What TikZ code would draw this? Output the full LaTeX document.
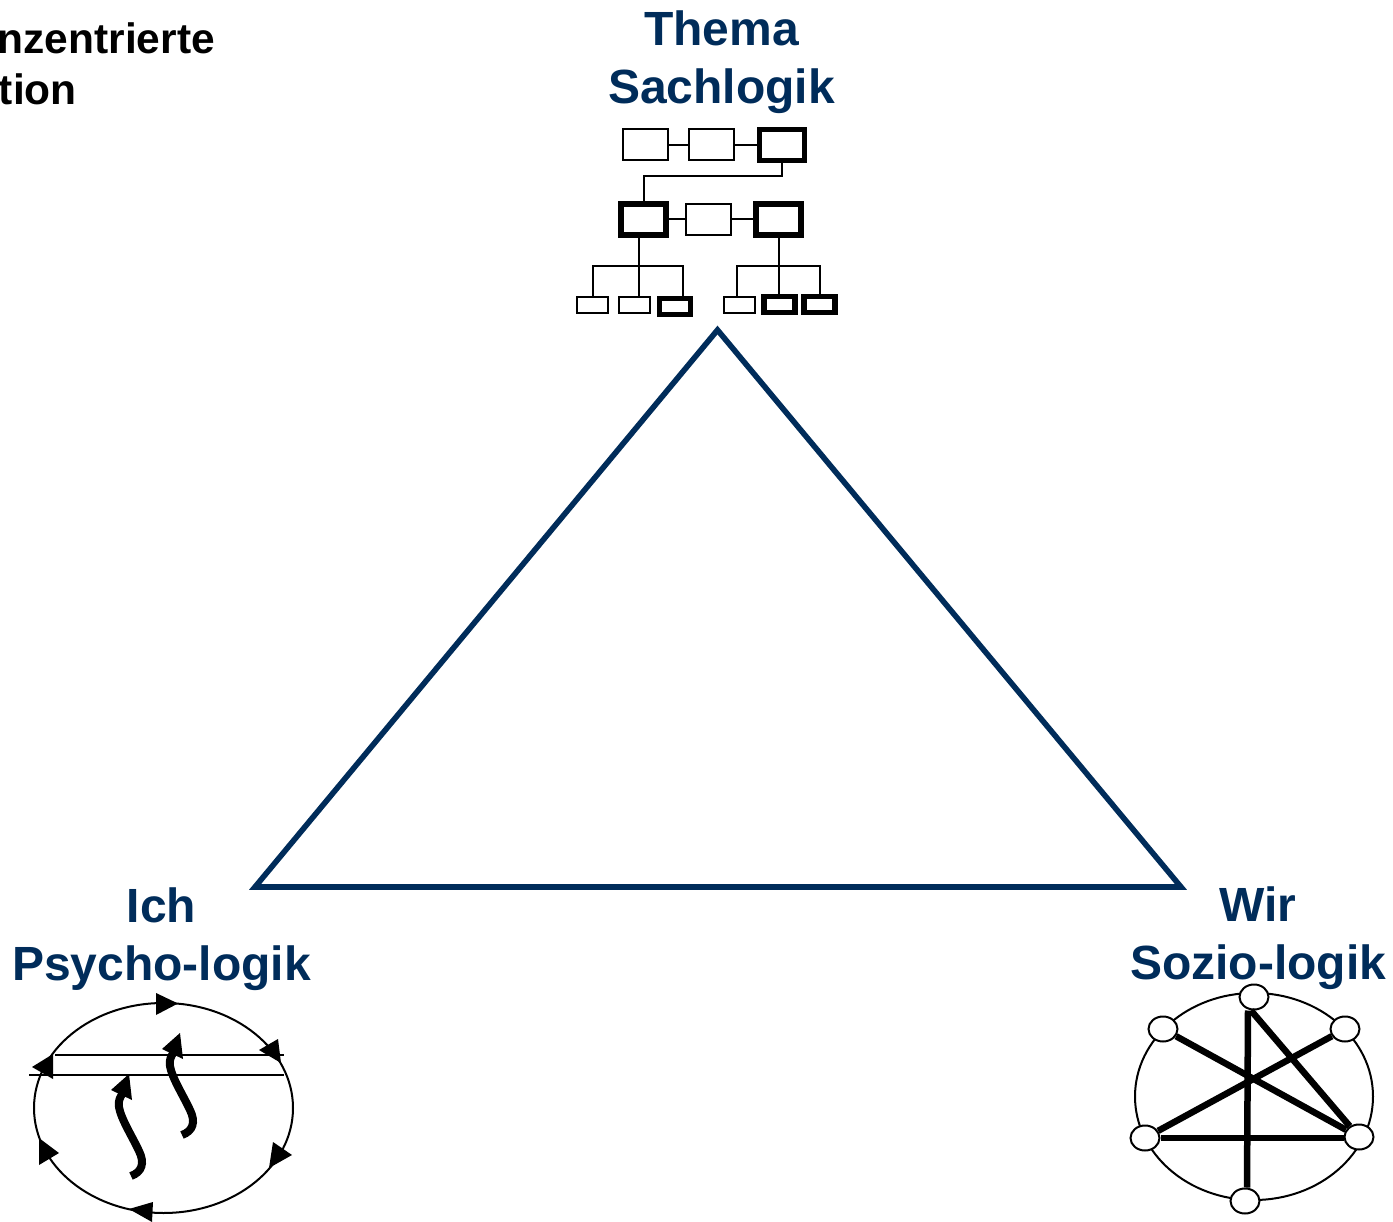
\documentclass[tikz,border=0pt]{standalone}
\usepackage{fontspec}
\setmainfont{Liberation Sans}
\usetikzlibrary{shapes.geometric}

\definecolor{navy}{HTML}{002C5A}

\tikzset{
	headline/.style = {navy, font = \fontsize{48}{58}\selectfont\bfseries, align = center, inner sep = 0},
	titleline/.style = {anchor = base east, inner sep = 0, font = \fontsize{42.5}{50}\selectfont\bfseries},
	plainbox/.style = {draw, fill = white, line width = 2, inner sep = 0},
	heavybox/.style = {draw, fill = white, line width = 5.6, inner sep = 0},
	largebox/.style = {minimum width = 45, minimum height = 31},
	smallbox/.style = {minimum width = 31, minimum height = 16},
	member/.style = {draw, ellipse, fill = white, line width = 2, inner sep = 0, minimum width = 29, minimum height = 25},
	link/.style = {line width = 2},
	tie/.style = {line width = 6.5}
}

\begin{document}
\begin{tikzpicture}[x = 1pt, y = -1pt]

	\useasboundingbox (0, 0) rectangle (1393, 1222);
	\clip (0, 0) rectangle (1393, 1222);

	% Heading, cut off by the page edge

	\node [titleline] (headone) at (215, 53.5) {nzentrierte};
	\node [titleline] (headtwo) at (77, 104.5) {tion};

	% Triangle

	\draw [navy, line width = 5.6] (717.5, 330) -- (1181, 887) -- (255, 887) -- cycle;

	% Labels

	\node [headline] (thema) at (721.5, 62) {Thema\\Sachlogik};
	\node [headline] (ich) at (161.5, 939) {Ich\\Psycho-logik};
	\node [headline] (wir) at (1258, 938) {Wir\\Sozio-logik};

	% Top row

	\node [plainbox, largebox] (topa) at (645.5, 145) {};
	\node [plainbox, largebox] (topb) at (711, 145) {};
	\node [heavybox, largebox] (topc) at (782, 145) {};
	\draw [link] (topa) -- (topb);
	\draw [link] (topb) -- (topc);

	% Middle row

	\node [heavybox, largebox] (mida) at (643.5, 219.5) {};
	\node [plainbox, largebox] (midb) at (708, 219.5) {};
	\node [heavybox, largebox] (midc) at (778.5, 219.5) {};
	\draw [link] (mida) -- (midb);
	\draw [link] (midb) -- (midc);
	\draw [link] (topc.south) -- ++ (0, 12.5) -| (mida.north);

	% Bottom row

	\node [plainbox, smallbox] (lowa) at (592.5, 305) {};
	\node [plainbox, smallbox] (lowb) at (634.5, 305) {};
	\node [heavybox, smallbox] (lowc) at (675, 306.5) {};
	\node [plainbox, smallbox] (lowd) at (739, 305) {};
	\node [heavybox, smallbox] (lowe) at (779.3, 304.5) {};
	\node [heavybox, smallbox] (lowf) at (819.5, 304.5) {};

	\coordinate (busa) at (638.5, 266);
	\coordinate (busb) at (778.5, 266);

	\draw [link] ([xshift = -5pt] mida.south) -- (busa) -- (busa |- lowb.north);
	\draw [link] (lowa.north) |- (busa) -| ([xshift = 8pt] lowc.north);
	\draw [link] (midc.south) -- (midc.south |- lowe.north);
	\draw [link] ([xshift = -2pt] lowd.north) |- (busb) -| (lowf.north);

	% Left circle

	\node [draw, ellipse, line width = 2, inner sep = 0, minimum width = 259, minimum height = 210] (psyche) at (163.5, 1108) {};

	\foreach \xa / \ya / \xb / \yb / \xc / \yc in {
		178 / 1003.5 / 156 / 993 / 156 / 1015,
		281 / 1063 / 259 / 1050 / 278 / 1039,
		292 / 1155 / 273 / 1142 / 269 / 1168,
		129 / 1209 / 153 / 1202 / 152 / 1222,
		59 / 1153 / 39 / 1138 / 39 / 1165,
		32 / 1067 / 53 / 1054 / 53 / 1079}
		\fill (\xa, \ya) -- (\xb, \yb) -- (\xc, \yc) -- cycle;

	\coordinate (barastart) at (55, 1055);
	\coordinate (baraend) at (284, 1055);
	\coordinate (barbstart) at (29, 1075);
	\coordinate (barbend) at (284, 1075);
	\draw [line width = 2.5] (barastart) -- (baraend);
	\draw [line width = 2.5] (barbstart) -- (barbend);

	% Wavy arrows

	\foreach \dx / \dy in {0 / 0, -51 / 41} {
		\begin{scope}[shift = {(\dx, \dy)}]
			\draw [line width = 8] (182, 1135) .. controls (193, 1131) and (196, 1122) .. (190, 1110) .. controls (183, 1095) and (172, 1078) .. (170, 1066) .. controls (169, 1060) and (171, 1056) .. (174, 1052);
			\fill (180, 1033) -- (162, 1049) -- (183, 1059) -- cycle;
		\end{scope}
	}

	% Right circle

	\node [draw, ellipse, line width = 2, inner sep = 0, minimum width = 238, minimum height = 207] (group) at (1254, 1096.5) {};

	\node [member] (north) at (1254, 997) {};
	\node [member] (upleft) at (1163, 1029) {};
	\node [member] (upright) at (1345, 1029) {};
	\node [member] (lowleft) at (1145, 1138) {};
	\node [member] (lowright) at (1359, 1137) {};
	\node [member] (south) at (1245, 1201) {};

	\draw [tie] ([xshift = -6pt] north.south) -- ([xshift = 2pt] south.north);
	\draw [tie] ([xshift = -3pt] north.south) -- (lowright);
	\draw [tie] (upleft) -- (lowright);
	\draw [tie] (upright) -- (lowleft);
	\draw [tie] (lowleft.east) -- (lowleft.east -| lowright.west);

\end{tikzpicture}
\end{document}
